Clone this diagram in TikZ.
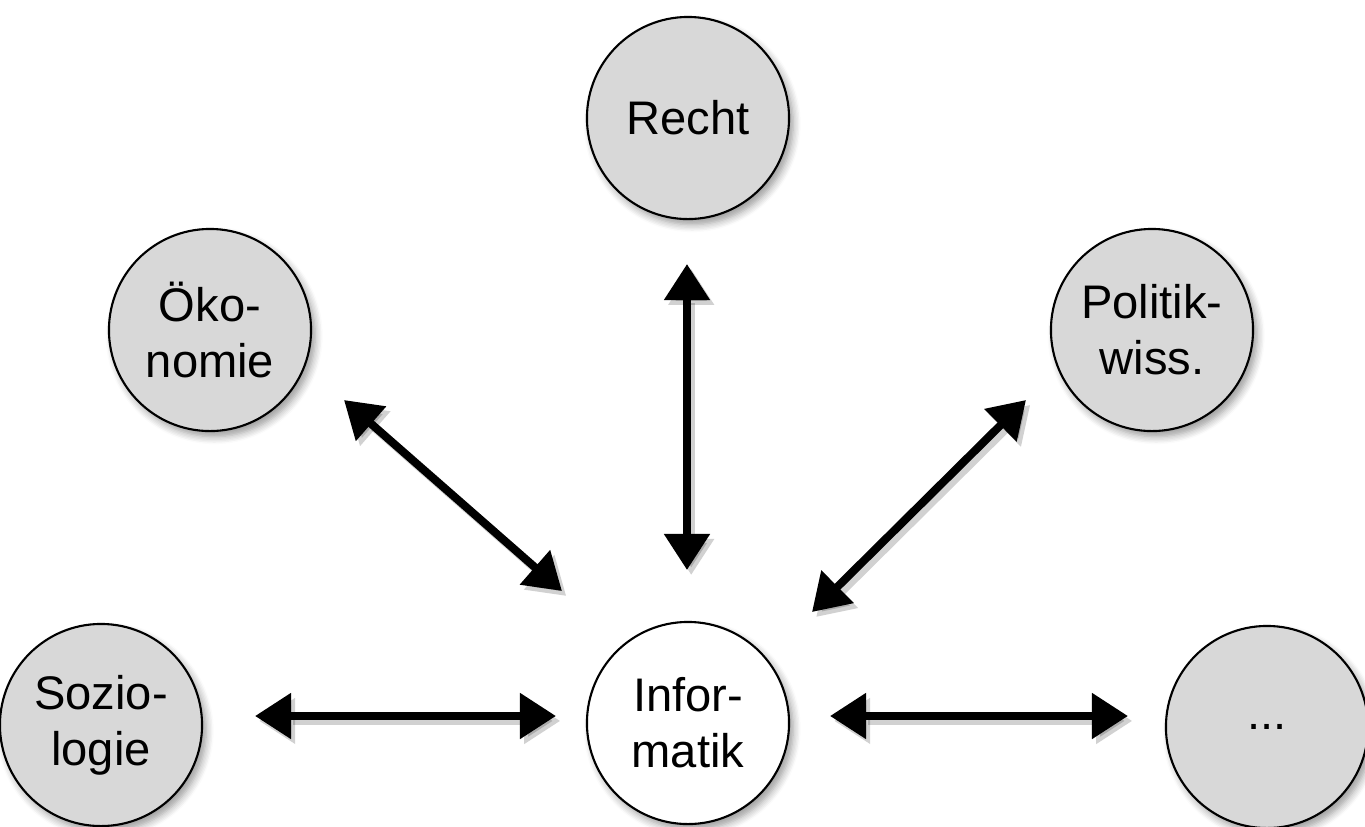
\documentclass[tikz,border=0pt]{standalone}
\usepackage{fontspec}
\setmainfont{Liberation Sans}
\usetikzlibrary{arrows.meta,shadows.blur}
\definecolor{discfill}{HTML}{D8D8D8}
\tikzset{
  disc/.style={circle, draw=black, line width=0.6pt, fill=discfill, minimum size=2.02cm, inner sep=0pt,
    align=center, font=\fontsize{13.4}{16}\selectfont,
    blur shadow={shadow xshift=1.2pt, shadow yshift=-1.6pt, shadow blur steps=6, shadow opacity=40}},
  maindisc/.style={disc, fill=white},
  biarrow/.style={line width=2.3pt, {Triangle[length=0.36cm,width=0.44cm]}-{Triangle[length=0.36cm,width=0.44cm]}},
  arrowshadow/.style={biarrow, draw=black, opacity=0.18, transform canvas={shift={(1.2pt,-1.4pt)}}}
}
\begin{document}
\begin{tikzpicture}[x=0.01cm,y=-0.01cm]
\useasboundingbox (0,0) rectangle (1365,826);
\node[disc] (recht) at (688,118) {Recht};
\node[disc] (oek) at (210,330) {Öko-\\nomie};
\node[disc] (pol) at (1152,330) {Politik-\\wiss.};
\node[disc] (soz) at (101,725) {Sozio-\\logie};
\node[maindisc] (inf) at (688,723) {Infor-\\matik};
\node[disc] (etc) at (1267,727) {...};
% arrow end points
\coordinate (a1s) at (255,716);
\coordinate (a1e) at (556,716);
\coordinate (a2s) at (830,716);
\coordinate (a2e) at (1128,716);
\coordinate (a3s) at (687,264);
\coordinate (a3e) at (687,570);
\coordinate (a4s) at (344,400);
\coordinate (a4e) at (562,591);
\coordinate (a5s) at (1026,400);
\coordinate (a5e) at (812,612);
\foreach \s/\e in {a1s/a1e,a2s/a2e,a3s/a3e,a4s/a4e,a5s/a5e}{
  \draw[arrowshadow] (\s) -- (\e);
}
\draw[biarrow] (a1s) -- (a1e);
\draw[biarrow] (a2s) -- (a2e);
\draw[biarrow] (a3s) -- (a3e);
\draw[biarrow] (a4s) -- (a4e);
\draw[biarrow] (a5s) -- (a5e);
\end{tikzpicture}
\end{document}
